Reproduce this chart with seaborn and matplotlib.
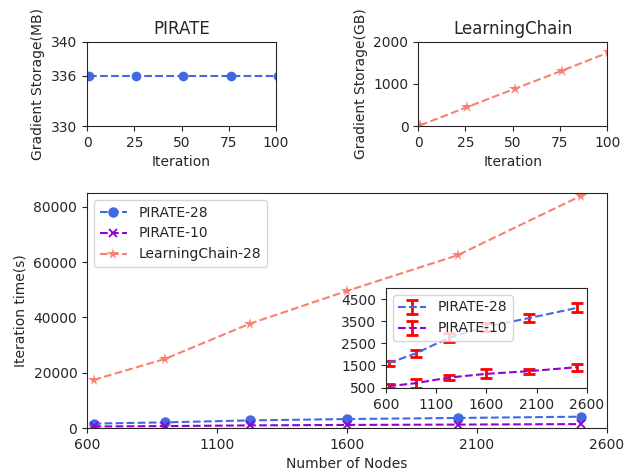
import matplotlib
matplotlib.use("Agg")
import matplotlib.pyplot as plt
import seaborn as sns
import pandas as pd

sns.set_style("ticks")
plt.rcParams['font.family'] = ['DejaVu Sans']

# ---- data ----
iterations = [1, 26, 51, 76, 101]
pirate_storage_mb = [336, 336, 336, 336, 336]
lc_storage_gb = [17, 452, 885, 1315, 1755]

nodes = [625, 900, 1225, 1600, 2025, 2500]
pirate28 = [1600, 2050, 2750, 3250, 3640, 4100]
pirate10 = [560, 700, 950, 1120, 1240, 1420]
lc28 = [17400, 25000, 37700, 49600, 62500, 84000]
pirate28_err = [120, 150, 200, 180, 180, 200]
pirate10_err = [100, 200, 110, 200, 110, 160]

blue = "#4169e1"
violet = "#9400d3"
salmon = "#fa8072"

fig = plt.figure(figsize=(6.26, 4.75), dpi=100)

# ---- top-left: PIRATE ----
ax1 = fig.add_axes([0.139, 0.7347, 0.302, 0.177])
df1 = pd.DataFrame({"it": iterations, "v": pirate_storage_mb})
sns.lineplot(data=df1, x="it", y="v", ax=ax1, color=blue, marker="o",
             markersize=7, markeredgewidth=0, linestyle="--")
ax1.set_xlim(0, 100)
ax1.set_ylim(330, 340)
ax1.set_yticks([330, 336, 340])
ax1.set_xticks([0, 25, 50, 75, 100])
ax1.set_title("PIRATE", fontsize=12)
ax1.set_xlabel("Iteration")
ax1.set_ylabel("Gradient Storage(MB)")

# ---- top-right: LearningChain ----
ax2 = fig.add_axes([0.668, 0.7347, 0.302, 0.177])
df2 = pd.DataFrame({"it": iterations, "v": lc_storage_gb})
sns.lineplot(data=df2, x="it", y="v", ax=ax2, color=salmon, marker="*",
             markersize=9, markeredgewidth=0, linestyle="--")
ax2.set_xlim(0, 100)
ax2.set_ylim(0, 2000)
ax2.set_yticks([0, 1000, 2000])
ax2.set_xticks([0, 25, 50, 75, 100])
ax2.set_title("LearningChain", fontsize=12)
ax2.set_xlabel("Iteration")
ax2.set_ylabel("Gradient Storage(GB)")

# ---- main ----
ax = fig.add_axes([0.139, 0.0989, 0.8307, 0.4947])
long = pd.DataFrame({
    "nodes": nodes * 3,
    "time": pirate28 + pirate10 + lc28,
    "series": ["PIRATE-28"] * 6 + ["PIRATE-10"] * 6 + ["LearningChain-28"] * 6,
})
sns.lineplot(data=long, x="nodes", y="time", hue="series", style="series",
             palette={"PIRATE-28": blue, "PIRATE-10": violet, "LearningChain-28": salmon},
             markers={"PIRATE-28": "o", "PIRATE-10": "X", "LearningChain-28": "*"},
             dashes=False, markersize=7, ax=ax)


def fix_line(line):
    c = matplotlib.colors.to_hex(line.get_color())
    line.set_markeredgecolor(c)
    line.set_linestyle("--")
    line.set_linewidth(1.5)
    if c == violet:
        line.set_marker("x")
        line.set_markerfacecolor(c)
        line.set_markeredgewidth(1.3)
        line.set_markersize(6)
    else:
        line.set_markeredgewidth(0)
        line.set_markersize(7.5 if c == blue else 8.5)


for line in ax.lines:
    fix_line(line)
ax.set_xlim(600, 2600)
ax.set_ylim(0, 85000)
ax.set_xticks([600, 1100, 1600, 2100, 2600])
ax.set_yticks([0, 20000, 40000, 60000, 80000])
ax.set_xlabel("Number of Nodes")
ax.set_ylabel("Iteration time(s)")
handles, labels = ax.get_legend_handles_labels()
for h in handles:
    fix_line(h)
ax.legend(handles, labels, loc="upper left", fontsize=10)

# ---- inset ----
axi = fig.add_axes([0.6166, 0.1832, 0.321, 0.2105])
sns.lineplot(x=nodes, y=pirate28, ax=axi, color=blue, legend=False)
sns.lineplot(x=nodes, y=pirate10, ax=axi, color=violet, legend=False)
for l in list(axi.lines):
    l.remove()
axi.errorbar(nodes, pirate28, yerr=pirate28_err, fmt="--", color=blue,
             ecolor="red", elinewidth=2, capsize=4, capthick=2, label="PIRATE-28")
axi.errorbar(nodes, pirate10, yerr=pirate10_err, fmt="--", color=violet,
             ecolor="red", elinewidth=2, capsize=4, capthick=2, label="PIRATE-10")
axi.set_xlim(600, 2600)
axi.set_ylim(480, 5000)
axi.set_xticks([600, 1100, 1600, 2100, 2600])
axi.set_yticks([500, 1500, 2500, 3500, 4500])
axi.set_xlabel("")
axi.set_ylabel("")
axi.legend(loc="upper left", fontsize=10)

fig.savefig("out.png", dpi=100)
